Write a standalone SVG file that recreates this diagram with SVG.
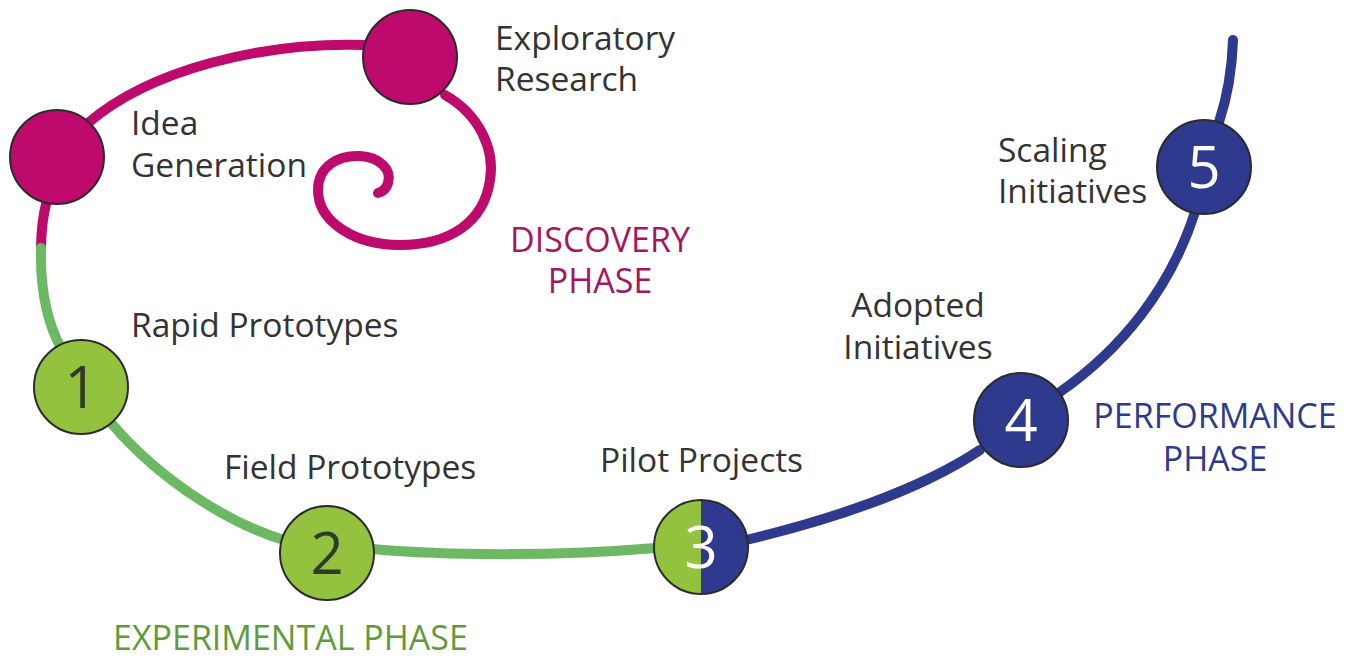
<svg xmlns="http://www.w3.org/2000/svg" width="1351" height="658" viewBox="0 0 1351 658">
  <style>
    .track { fill: none; stroke-width: 10; stroke-linecap: round; stroke-linejoin: round; }
    .pink { stroke: #BE0A6C; }
    .green { stroke: #6DB862; }
    .blue { stroke: #2E3A8D; }
    .node { stroke: #2b2b2b; stroke-width: 2; }
    .label { font-family: "Open Sans", "Liberation Sans", sans-serif; font-size: 33.5px; fill: #333333; }
    .num { font-family: "Open Sans", "Liberation Sans", sans-serif; font-size: 58px; text-anchor: middle; }
    .phase { font-family: "Open Sans", "Liberation Sans", sans-serif; font-size: 34px; }
  </style>
  <rect width="1351" height="658" fill="#ffffff"/>

  <g id="connectors">
    <!-- discovery: idea generation to exploratory research, then the curl -->
    <path class="track pink" d="M 88 123 C 150 70 260 42 365 45"/>
    <path class="track pink" d="M 445 95 C 480 115 495 150 490 180 C 484 222 450 245 400 245 C 355 245 318 222 318 190 C 318 165 340 155 360 156 C 380 157 392 170 388 183 C 386 190 382 192 378 193"/>
    <path class="track pink" d="M 47 200 C 43 215 41 232 41 250"/>
    <!-- experimental -->
    <path class="track green" d="M 41 248 C 40 290 48 325 62 350"/>
    <path class="track green" d="M 112 424 C 160 480 230 525 290 542"/>
    <path class="track green" d="M 372 549 C 450 556 560 556 656 548"/>
    <!-- performance -->
    <path class="track blue" d="M 746 540 C 830 520 920 490 980 450"/>
    <path class="track blue" d="M 1060 392 C 1120 350 1170 290 1195 212"/>
    <path class="track blue" d="M 1219 122 C 1228 95 1232 70 1233 40"/>
  </g>

  <g id="idea-generation">
    <circle class="node" cx="57" cy="157" r="47" fill="#BE0A6C"/>
    <text class="label" x="131" y="135">Idea</text>
    <text class="label" x="131" y="177">Generation</text>
  </g>

  <g id="exploratory-research">
    <circle class="node" cx="410" cy="57" r="47" fill="#BE0A6C"/>
    <text class="label" x="495" y="50">Exploratory</text>
    <text class="label" x="495" y="91">Research</text>
  </g>

  <g id="discovery-phase">
    <text class="phase" x="600" y="252" text-anchor="middle" fill="#A8155F">DISCOVERY</text>
    <text class="phase" x="600" y="293" text-anchor="middle" fill="#A8155F">PHASE</text>
  </g>

  <g id="rapid-prototypes">
    <circle class="node" cx="81" cy="387" r="47" fill="#92C23E"/>
    <text class="num" x="81" y="408" fill="#2f3a2a">1</text>
    <text class="label" x="131" y="337">Rapid Prototypes</text>
  </g>

  <g id="field-prototypes">
    <circle class="node" cx="327" cy="553" r="47" fill="#92C23E"/>
    <text class="num" x="327" y="574" fill="#2f3a2a">2</text>
    <text class="label" x="224" y="479">Field Prototypes</text>
  </g>

  <g id="experimental-phase">
    <text class="phase" x="113" y="650" fill="#5F9B3B">EXPERIMENTAL PHASE</text>
  </g>

  <g id="pilot-projects">
    <clipPath id="left-half"><rect x="600" y="480" width="101" height="140"/></clipPath>
    <circle cx="701" cy="547" r="47" fill="#2E3A8D"/>
    <circle cx="701" cy="547" r="47" fill="#92C23E" clip-path="url(#left-half)"/>
    <circle class="node" cx="701" cy="547" r="47" fill="none"/>
    <text class="num" x="701" y="568" fill="#ffffff">3</text>
    <text class="label" x="600" y="472">Pilot Projects</text>
  </g>

  <g id="adopted-initiatives">
    <circle class="node" cx="1021" cy="420" r="47" fill="#2E3A8D"/>
    <text class="num" x="1021" y="441" fill="#ffffff">4</text>
    <text class="label" x="918" y="317" text-anchor="middle">Adopted</text>
    <text class="label" x="918" y="359" text-anchor="middle">Initiatives</text>
  </g>

  <g id="scaling-initiatives">
    <circle class="node" cx="1204" cy="167" r="47" fill="#2E3A8D"/>
    <text class="num" x="1204" y="188" fill="#ffffff">5</text>
    <text class="label" x="998" y="162">Scaling</text>
    <text class="label" x="998" y="203">Initiatives</text>
  </g>

  <g id="performance-phase">
    <text class="phase" x="1215" y="428" text-anchor="middle" fill="#2E3A8D">PERFORMANCE</text>
    <text class="phase" x="1215" y="471" text-anchor="middle" fill="#2E3A8D">PHASE</text>
  </g>
</svg>
